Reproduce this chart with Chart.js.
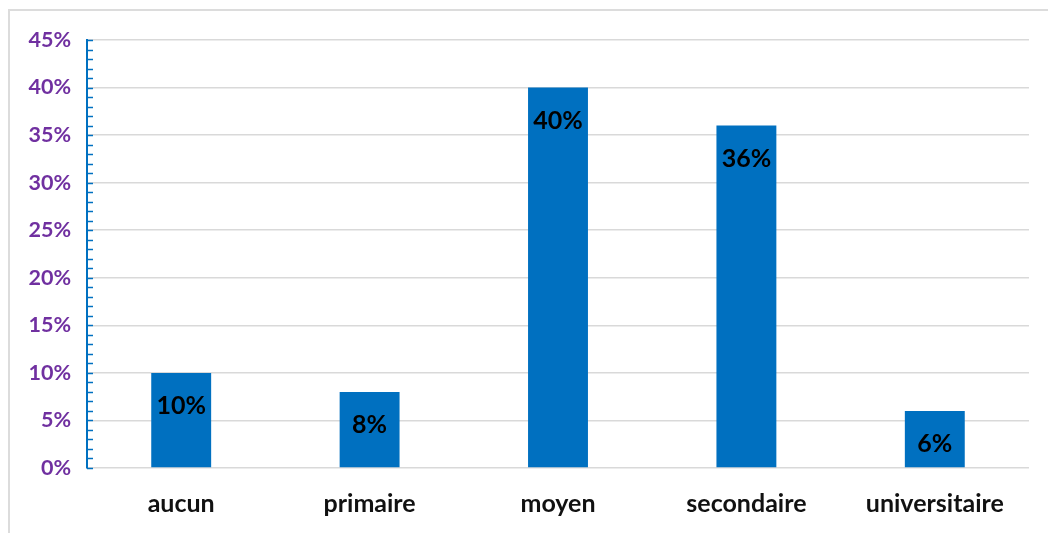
<!DOCTYPE html>
<html>
<head>
<meta charset="utf-8">
<script src="https://cdn.jsdelivr.net/npm/chart.js@4.4.0/dist/chart.umd.min.js"></script>
<style>
  html, body { margin: 0; padding: 0; background: #fff; }
  #wrap { position: relative; width: 1048px; height: 533px; overflow: hidden; }
  #frame { position: absolute; left: 8px; top: 9px; width: 1100px; height: 600px; border: 2px solid #dcdcdc; box-sizing: border-box; }
  canvas { position: absolute; left: 0; top: 0; }
</style>
</head>
<body>
<div id="wrap">
  <div id="frame"></div>
  <canvas id="niveau" width="1048" height="533"></canvas>
</div>
<script>
const categories = ["aucun", "primaire", "moyen", "secondaire", "universitaire"];
const percents = [10, 8, 40, 36, 6];
const yTicks = [0, 5, 10, 15, 20, 25, 30, 35, 40, 45];

const BLUE = "#0070C0";
const FONT = "Lato, 'Open Sans', sans-serif";

// small blue ticks every 1% on the inner side of the y axis
const minorTicks = {
  id: "minorTicks",
  afterDraw(chart) {
    const y = chart.scales.y;
    const ctx = chart.ctx;
    ctx.save();
    ctx.strokeStyle = BLUE;
    ctx.lineWidth = 1.5;
    for (let v = y.min; v <= y.max; v++) {
      const py = Math.round(y.getPixelForValue(v)) + 0.5;
      ctx.beginPath();
      ctx.moveTo(y.right, py);
      ctx.lineTo(y.right + 6, py);
      ctx.stroke();
    }
    ctx.restore();
  }
};

// value labels inside the top of each bar
const barLabels = {
  id: "barLabels",
  afterDatasetsDraw(chart) {
    const ctx = chart.ctx;
    const meta = chart.getDatasetMeta(0);
    ctx.save();
    ctx.font = "bold 25px " + FONT;
    ctx.fillStyle = "#000";
    ctx.textAlign = "center";
    ctx.textBaseline = "middle";
    meta.data.forEach((bar, i) => {
      ctx.fillText(percents[i] + "%", bar.x, bar.y + 33);
    });
    ctx.restore();
  }
};

new Chart(document.getElementById("niveau"), {
  type: "bar",
  data: {
    labels: categories,
    datasets: [{
      data: percents,
      backgroundColor: BLUE,
      categoryPercentage: 1,
      barPercentage: 0.318
    }]
  },
  options: {
    responsive: false,
    animation: false,
    layout: { padding: { top: 40, right: 19, left: 0, bottom: 0 } },
    plugins: { legend: { display: false }, tooltip: { enabled: false } },
    scales: {
      x: {
        grid: { display: false },
        border: { display: false },
        ticks: { color: "#111", font: { family: FONT, weight: "bold", size: 25 }, padding: 13 },
        afterFit(s) { s.height = 65; }
      },
      y: {
        min: 0,
        max: 45,
        afterBuildTicks(s) { s.ticks = yTicks.map(v => ({ value: v })); },
        grid: { color: "#d9d9d9", lineWidth: 1.5, drawTicks: false },
        border: { display: true, color: BLUE, width: 2 },
        ticks: {
          color: "#7030A0",
          font: { family: FONT, weight: "bold", size: 21.5 },
          padding: 16,
          callback: v => v + "%"
        },
        afterFit(s) { s.width = 87; }
      }
    }
  },
  plugins: [minorTicks, barLabels]
});
</script>
</body>
</html>
